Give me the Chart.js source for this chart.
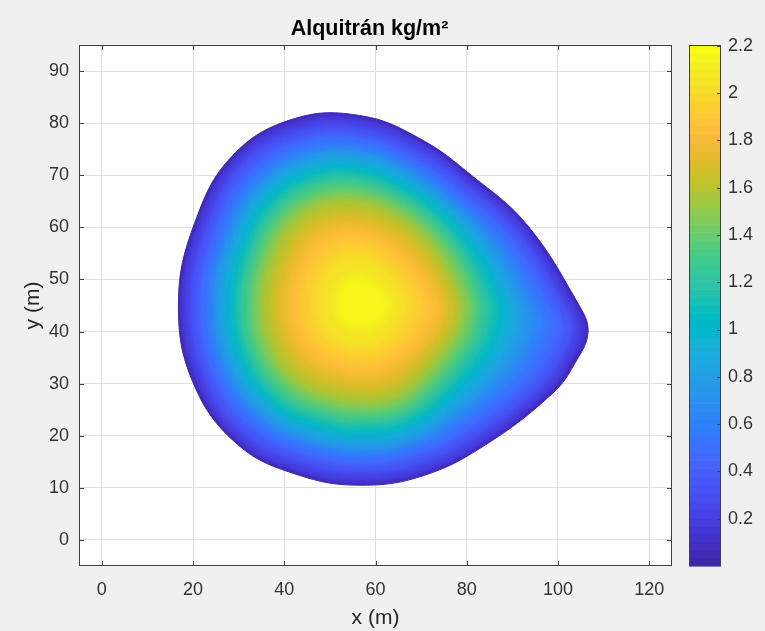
<!DOCTYPE html>
<html>
<head>
<meta charset="utf-8">
<script src="https://cdn.jsdelivr.net/npm/chart.js@4/dist/chart.umd.min.js"></script>
<style>
html,body{margin:0;padding:0;background:#f0f0f0;}
canvas{display:block;}
</style>
</head>
<body>
<canvas id="c" width="765" height="631" style="width:765px;height:631px"></canvas>
<script>
// ---- tick labels ----
const xTicks = [0, 20, 40, 60, 80, 100, 120];
const yTicks = [0, 10, 20, 30, 40, 50, 60, 70, 80, 90];
const cbTicks = [0.2, 0.4, 0.6, 0.8, 1, 1.2, 1.4, 1.6, 1.8, 2, 2.2];
const cLimits = [0, 2.203];

// ---- contour levels of the tar field (kg/m^2) ----
const contourLevels = [0, 0.1, 0.2, 0.3, 0.4, 0.5, 0.6, 0.7, 0.8, 0.9, 1.0, 1.1, 1.2, 1.3, 1.4, 1.5, 1.6, 1.7, 1.8, 1.9, 2.0, 2.1];

// contour points (x m, y m), one pair of arrays per level
const x00 = [104.3, 93.2, 81.3, 70.0, 57.0, 42.3, 28.7, 20.3, 16.8, 20.0, 29.8, 43.3, 57.0, 70.7, 84.2, 98.9, 103.7, 106.6];
const y00 = [45.5, 60.5, 69.8, 76.9, 81.4, 80.9, 73.8, 60.7, 45.5, 30.2, 18.3, 12.4, 10.5, 12.4, 18.3, 28.2, 33.9, 40.0];
const x01 = [103.6, 92.7, 80.9, 69.8, 57.0, 42.5, 29.1, 20.9, 17.4, 20.6, 30.2, 43.5, 57.0, 70.5, 83.8, 98.3, 103.0, 105.9];
const y01 = [45.5, 60.3, 69.4, 76.4, 80.9, 80.4, 73.4, 60.5, 45.5, 30.4, 18.7, 12.9, 11.0, 12.9, 18.7, 28.5, 34.1, 40.1];
const x02 = [102.3, 91.7, 80.3, 69.5, 57.0, 42.9, 29.9, 21.8, 18.5, 21.6, 30.9, 43.9, 57.0, 70.1, 83.1, 97.1, 101.7, 104.5];
const y02 = [45.5, 59.9, 68.8, 75.6, 79.9, 79.4, 72.6, 60.1, 45.5, 30.8, 19.4, 13.8, 12.0, 13.8, 19.4, 28.9, 34.4, 40.2];
const x03 = [100.8, 90.5, 79.5, 69.0, 57.0, 43.4, 30.8, 23.1, 19.8, 22.8, 31.8, 44.3, 57.0, 69.7, 82.2, 95.8, 100.2, 102.9];
const y03 = [45.5, 59.4, 68.0, 74.5, 78.7, 78.2, 71.7, 59.6, 45.5, 31.3, 20.3, 14.9, 13.1, 14.9, 20.3, 29.5, 34.8, 40.4];
const x04 = [98.9, 89.1, 78.5, 68.5, 57.0, 44.0, 31.9, 24.5, 21.4, 24.2, 32.9, 44.9, 57.0, 69.1, 81.1, 94.1, 98.4, 100.9];
const y04 = [45.5, 58.8, 67.0, 73.3, 77.3, 76.9, 70.6, 59.0, 45.5, 31.9, 21.4, 16.2, 14.5, 16.2, 21.4, 30.2, 35.2, 40.6];
const x05 = [97.2, 88.0, 77.9, 68.2, 57.0, 44.4, 32.7, 25.5, 22.5, 25.2, 33.6, 45.2, 57.0, 68.8, 80.3, 92.5, 96.5, 98.9];
const y05 = [45.5, 58.3, 66.4, 72.5, 76.3, 75.9, 69.8, 58.6, 45.5, 32.4, 22.1, 17.1, 15.4, 17.1, 22.2, 30.8, 35.6, 40.9];
const x06 = [95.0, 86.6, 77.1, 67.8, 57.0, 44.8, 33.5, 26.6, 23.7, 26.3, 34.5, 45.6, 57.0, 68.4, 79.2, 90.5, 94.2, 96.4];
const y06 = [45.5, 57.7, 65.6, 71.5, 75.3, 74.8, 69.0, 58.1, 45.5, 32.8, 23.0, 18.1, 16.5, 18.1, 23.3, 31.6, 36.2, 41.1];
const x07 = [93.1, 85.4, 76.4, 67.4, 57.0, 45.2, 34.4, 27.6, 24.8, 27.4, 35.2, 46.0, 57.0, 68.0, 78.3, 88.8, 92.2, 94.1];
const y07 = [45.5, 57.2, 64.9, 70.6, 74.2, 73.8, 68.1, 57.7, 45.5, 33.3, 23.7, 19.0, 17.5, 19.0, 24.2, 32.3, 36.7, 41.4];
const x08 = [91.0, 84.0, 75.8, 67.0, 57.0, 45.6, 35.1, 28.6, 25.9, 28.4, 36.0, 46.4, 57.0, 67.6, 77.3, 86.8, 89.9, 91.7];
const y08 = [45.5, 56.7, 64.3, 69.8, 73.3, 72.9, 67.4, 57.2, 45.5, 33.7, 24.5, 19.9, 18.4, 19.9, 25.2, 33.1, 37.3, 41.7];
const x09 = [89.4, 82.9, 75.1, 66.7, 57.0, 46.1, 35.9, 29.7, 27.1, 29.5, 36.8, 46.8, 57.0, 67.2, 76.4, 85.3, 88.1, 89.7];
const y09 = [45.5, 56.2, 63.6, 68.9, 72.2, 71.8, 66.6, 56.8, 45.5, 34.1, 25.3, 20.9, 19.5, 20.9, 26.1, 33.8, 37.7, 41.9];
const x10 = [87.4, 81.6, 74.4, 66.3, 57.0, 46.5, 36.8, 30.8, 28.3, 30.5, 37.6, 47.2, 57.0, 66.8, 75.5, 83.5, 86.2, 87.5];
const y10 = [45.5, 55.7, 62.9, 68.0, 71.2, 70.8, 65.7, 56.4, 45.5, 34.6, 26.1, 21.8, 20.5, 21.8, 27.0, 34.5, 38.2, 42.1];
const x11 = [85.9, 80.5, 73.7, 65.9, 57.0, 46.9, 37.6, 31.8, 29.4, 31.6, 38.3, 47.6, 57.0, 66.4, 74.7, 82.1, 84.5, 85.7];
const y11 = [45.5, 55.2, 62.2, 67.0, 70.1, 69.8, 64.9, 55.9, 45.5, 35.0, 26.8, 22.8, 21.5, 22.8, 27.8, 35.1, 38.6, 42.3];
const x12 = [84.0, 79.3, 73.0, 65.5, 57.0, 47.3, 38.4, 32.9, 30.6, 32.7, 39.1, 48.0, 57.0, 66.0, 73.8, 80.5, 82.8, 83.8];
const y12 = [45.5, 54.7, 61.5, 66.1, 69.1, 68.8, 64.1, 55.5, 45.5, 35.4, 27.6, 23.8, 22.5, 23.8, 28.7, 35.8, 39.1, 42.5];
const x13 = [82.3, 78.0, 72.1, 65.1, 57.0, 47.9, 39.4, 34.2, 32.0, 34.0, 40.1, 48.5, 57.0, 65.5, 72.8, 79.0, 81.2, 82.1];
const y13 = [45.5, 54.2, 60.6, 65.0, 67.8, 67.5, 63.1, 55.0, 45.5, 36.0, 28.6, 24.9, 23.7, 24.9, 29.7, 36.4, 39.5, 42.7];
const x14 = [80.8, 76.8, 71.2, 64.6, 57.0, 48.4, 40.4, 35.5, 33.4, 35.3, 41.1, 49.0, 57.0, 65.0, 71.8, 77.7, 79.7, 80.7];
const y14 = [45.5, 53.7, 59.7, 63.9, 66.5, 66.2, 62.1, 54.4, 45.5, 36.5, 29.6, 26.1, 25.0, 26.1, 30.7, 36.9, 39.8, 42.9];
const x15 = [79.1, 75.4, 70.4, 64.2, 57.0, 48.9, 41.4, 36.8, 34.9, 36.6, 42.0, 49.5, 57.0, 64.5, 70.9, 76.2, 78.1, 79.0];
const y15 = [45.5, 53.1, 58.9, 62.8, 65.2, 65.0, 61.1, 53.9, 45.5, 37.1, 30.5, 27.3, 26.2, 27.3, 31.6, 37.5, 40.2, 43.1];
const x16 = [77.7, 74.2, 69.4, 63.6, 57.0, 49.5, 42.6, 38.3, 36.5, 38.1, 43.1, 50.0, 57.0, 64.0, 69.9, 75.0, 76.8, 77.6];
const y16 = [45.5, 52.6, 57.9, 61.5, 63.8, 63.6, 59.9, 53.3, 45.5, 37.7, 31.6, 28.6, 27.6, 28.6, 32.6, 38.0, 40.6, 43.2];
const x17 = [76.1, 72.7, 68.3, 63.0, 57.0, 50.2, 43.9, 40.0, 38.4, 39.9, 44.4, 50.7, 57.0, 63.3, 68.8, 73.5, 75.1, 76.0];
const y17 = [45.5, 52.0, 56.8, 60.0, 62.1, 61.9, 58.6, 52.5, 45.5, 38.4, 32.9, 30.2, 29.3, 30.2, 33.7, 38.6, 41.0, 43.4];
const x18 = [74.0, 70.8, 66.7, 62.2, 57.0, 51.1, 45.7, 42.3, 40.9, 42.2, 46.1, 51.5, 57.0, 62.5, 67.3, 71.8, 73.2, 73.9];
const y18 = [45.5, 51.2, 55.2, 58.1, 59.9, 59.7, 56.8, 51.6, 45.5, 39.4, 34.6, 32.3, 31.5, 32.3, 35.2, 39.4, 41.5, 43.6];
const x19 = [70.7, 68.3, 65.0, 61.3, 57.0, 52.1, 47.7, 44.9, 43.7, 44.8, 48.0, 52.5, 57.0, 61.5, 65.4, 68.9, 70.1, 70.6];
const y19 = [45.5, 50.2, 53.5, 55.9, 57.3, 57.2, 54.8, 50.5, 45.5, 40.5, 36.5, 34.6, 33.9, 34.6, 37.1, 40.6, 42.2, 44.0];
const x20 = [67.2, 65.4, 63.1, 60.3, 57.0, 53.3, 49.9, 47.8, 46.9, 47.7, 50.2, 53.6, 57.0, 60.4, 63.4, 65.9, 66.7, 67.1];
const y20 = [45.5, 49.0, 51.6, 53.4, 54.5, 54.4, 52.6, 49.3, 45.5, 41.7, 38.7, 37.2, 36.7, 37.2, 39.1, 41.8, 43.1, 44.4];
const x21 = [63.5, 62.2, 60.6, 59.0, 57.0, 54.8, 52.8, 51.5, 51.0, 51.4, 52.9, 54.9, 57.0, 59.1, 60.9, 62.6, 63.2, 63.5];
const y21 = [45.5, 47.6, 49.1, 50.2, 50.9, 50.8, 49.7, 47.8, 45.5, 43.2, 41.4, 40.5, 40.2, 40.5, 41.6, 43.2, 44.0, 44.8];

// ---- parula colormap (64) ----
const parula64 = [
[0.2422,0.1504,0.6603],[0.2504,0.1650,0.7076],[0.2578,0.1818,0.7511],[0.2647,0.1978,0.7952],
[0.2706,0.2147,0.8364],[0.2751,0.2342,0.8710],[0.2783,0.2559,0.8991],[0.2803,0.2782,0.9221],
[0.2813,0.3006,0.9414],[0.2810,0.3228,0.9579],[0.2795,0.3447,0.9717],[0.2760,0.3667,0.9829],
[0.2699,0.3892,0.9906],[0.2602,0.4123,0.9952],[0.2440,0.4358,0.9988],[0.2206,0.4603,0.9973],
[0.1963,0.4847,0.9892],[0.1834,0.5074,0.9798],[0.1786,0.5289,0.9682],[0.1764,0.5499,0.9520],
[0.1687,0.5703,0.9359],[0.1540,0.5902,0.9218],[0.1460,0.6091,0.9079],[0.1380,0.6276,0.8973],
[0.1248,0.6459,0.8883],[0.1113,0.6635,0.8763],[0.0952,0.6798,0.8598],[0.0689,0.6948,0.8394],
[0.0297,0.7082,0.8163],[0.0036,0.7203,0.7917],[0.0067,0.7312,0.7660],[0.0433,0.7411,0.7394],
[0.0964,0.7500,0.7120],[0.1408,0.7584,0.6842],[0.1717,0.7670,0.6554],[0.1938,0.7758,0.6251],
[0.2161,0.7843,0.5923],[0.2470,0.7918,0.5567],[0.2906,0.7973,0.5188],[0.3406,0.8008,0.4789],
[0.3909,0.8029,0.4354],[0.4456,0.8024,0.3909],[0.5044,0.7993,0.3480],[0.5616,0.7942,0.3045],
[0.6174,0.7876,0.2612],[0.6720,0.7793,0.2227],[0.7242,0.7698,0.1910],[0.7738,0.7598,0.1646],
[0.8203,0.7498,0.1535],[0.8634,0.7406,0.1596],[0.9035,0.7330,0.1774],[0.9393,0.7288,0.2100],
[0.9728,0.7298,0.2394],[0.9956,0.7434,0.2371],[0.9970,0.7659,0.2199],[0.9952,0.7893,0.2028],
[0.9892,0.8136,0.1885],[0.9786,0.8386,0.1766],[0.9676,0.8639,0.1643],[0.9610,0.8890,0.1537],
[0.9597,0.9135,0.1423],[0.9628,0.9373,0.1265],[0.9691,0.9606,0.1064],[0.9769,0.9839,0.0805]
];
function rgbOf(c) {
  return 'rgb(' + Math.round(c[0] * 255) + ',' + Math.round(c[1] * 255) + ',' + Math.round(c[2] * 255) + ')';
}
function colorFor(v) {
  let i = Math.floor((v - cLimits[0]) / (cLimits[1] - cLimits[0]) * parula64.length);
  i = Math.max(0, Math.min(parula64.length - 1, i));
  return rgbOf(parula64[i]);
}

Chart.defaults.font.family = "'Liberation Sans', Arial, Helvetica, sans-serif";

const contours = [[x00,y00],[x01,y01],[x02,y02],[x03,y03],[x04,y04],[x05,y05],[x06,y06],[x07,y07],
  [x08,y08],[x09,y09],[x10,y10],[x11,y11],[x12,y12],[x13,y13],[x14,y14],[x15,y15],[x16,y16],
  [x17,y17],[x18,y18],[x19,y19],[x20,y20],[x21,y21]];

const datasets = contours.map(function (pair, i) {
  const xs = pair[0], ys = pair[1];
  const pts = xs.map(function (x, j) { return {x: x, y: ys[j]}; });
  const closed = [pts[pts.length - 1]].concat(pts, [pts[0], pts[1]]);
  const col = colorFor(contourLevels[i] + 0.05);
  return {
    label: 'Alquitrán ' + contourLevels[i],
    data: closed,
    showLine: true,
    fill: 'shape',
    backgroundColor: col,
    borderColor: col,
    borderWidth: 1,
    pointRadius: 0,
    pointHoverRadius: 0,
    tension: 0.4,
    order: contours.length - i
  };
});

// soft shading between contour bands (rendering only)
function blurFor(i) {
  if (i < 1) return 0;
  if (i === 1) return 1.2;
  return Math.min(1.5 + i * 0.2, 4);
}

const framePlugin = {
  id: 'matlabFrame',
  beforeDraw(chart) {
    const ctx = chart.ctx, a = chart.chartArea;
    ctx.save();
    ctx.fillStyle = '#f0f0f0';
    ctx.fillRect(0, 0, chart.width, chart.height);
    ctx.fillStyle = '#ffffff';
    ctx.fillRect(a.left, a.top, a.right - a.left, a.bottom - a.top);
    ctx.restore();
  },
  beforeDatasetsDraw(chart) { chart.ctx.filter = 'none'; },
  afterDatasetDraw(chart, args) {
    const next = args.index + 1;
    const b = next < contours.length ? blurFor(next) : 0;
    chart.ctx.filter = b > 0 ? 'blur(' + b + 'px)' : 'none';
  },
  afterDatasetsDraw(chart) { chart.ctx.filter = 'none'; },
  afterDraw(chart) {
    const ctx = chart.ctx, a = chart.chartArea, s = chart.scales;
    ctx.save();
    ctx.filter = 'none';
    ctx.strokeStyle = '#404040';
    ctx.lineWidth = 1;
    ctx.strokeRect(a.left + 0.5, a.top + 0.5, a.right - a.left - 1, a.bottom - a.top - 1);
    ctx.beginPath();
    xTicks.forEach(function (v) {
      const p = Math.round(s.x.getPixelForValue(v)) + 0.5;
      ctx.moveTo(p, a.bottom); ctx.lineTo(p, a.bottom - 5);
      ctx.moveTo(p, a.top); ctx.lineTo(p, a.top + 5);
    });
    yTicks.forEach(function (v) {
      const p = Math.round(s.y.getPixelForValue(v)) + 0.5;
      ctx.moveTo(a.left, p); ctx.lineTo(a.left + 5, p);
      ctx.moveTo(a.right, p); ctx.lineTo(a.right - 5, p);
    });
    ctx.stroke();

    // colorbar
    const cb = s.cb;
    const L = 689, R = 721;
    const n = parula64.length;
    for (let i = 0; i < n; i++) {
      const v0 = cLimits[0] + (cLimits[1] - cLimits[0]) * i / n;
      const v1 = cLimits[0] + (cLimits[1] - cLimits[0]) * (i + 1) / n;
      const p0 = cb.getPixelForValue(v0), p1 = cb.getPixelForValue(v1);
      ctx.fillStyle = rgbOf(parula64[i]);
      ctx.fillRect(L, p1, R - L, p0 - p1 + 0.6);
    }
    ctx.strokeRect(L + 0.5, a.top + 0.5, R - L - 1, a.bottom - a.top - 1);
    ctx.beginPath();
    cbTicks.forEach(function (v) {
      const p = Math.round(cb.getPixelForValue(v)) + 0.5;
      ctx.moveTo(R, p); ctx.lineTo(R - 4, p);
    });
    ctx.stroke();
    ctx.restore();
  }
};

new Chart(document.getElementById('c'), {
  type: 'scatter',
  data: { datasets: datasets },
  options: {
    responsive: false,
    animation: false,
    devicePixelRatio: 1,
    events: [],
    layout: { padding: 0 },
    plugins: {
      legend: { display: false },
      tooltip: { enabled: false },
      title: {
        display: true,
        text: 'Alquitrán kg/m²  ',
        color: '#000000',
        font: { size: 21.5, weight: 'bold' },
        padding: { top: 16, bottom: 3.2 },
        fullSize: false
      }
    },
    scales: {
      x: {
        type: 'linear', min: -5, max: 125,
        afterBuildTicks: function (sc) { sc.ticks = xTicks.map(function (v) { return {value: v}; }); },
        afterFit: function (sc) { sc.height = 65; },
        grid: { color: '#dfdfdf', drawTicks: false },
        border: { display: false },
        ticks: { padding: 13, color: '#333333', font: { size: 18 }, maxRotation: 0, autoSkip: false,
                 callback: function (v) { return String(v); } },
        title: { display: true, text: 'x (m)', color: '#262626', font: { size: 21 }, padding: { top: 0, bottom: 0 } }
      },
      y: {
        type: 'linear', position: 'left', min: -5, max: 95,
        afterBuildTicks: function (sc) { sc.ticks = yTicks.map(function (v) { return {value: v}; }); },
        afterFit: function (sc) { sc.width = 79; },
        grid: { color: '#dfdfdf', drawTicks: false },
        border: { display: false },
        ticks: { padding: 10, color: '#333333', font: { size: 18 }, autoSkip: false,
                 callback: function (v) { return String(v); } },
        title: { display: true, text: 'y (m)', color: '#262626', font: { size: 21 }, padding: { top: 21, bottom: 0 } }
      },
      cb: {
        type: 'linear', position: 'right', min: cLimits[0], max: cLimits[1],
        afterBuildTicks: function (sc) { sc.ticks = cbTicks.map(function (v) { return {value: v}; }); },
        afterFit: function (sc) { sc.width = 93; },
        grid: { display: true, drawOnChartArea: false, drawTicks: true, tickLength: 56, color: 'rgba(0,0,0,0)' },
        border: { display: false },
        ticks: { padding: 0, color: '#333333', font: { size: 18 }, autoSkip: false,
                 callback: function (v) { return String(v); } }
      }
    }
  },
  plugins: [framePlugin]
});
</script>
</body>
</html>
